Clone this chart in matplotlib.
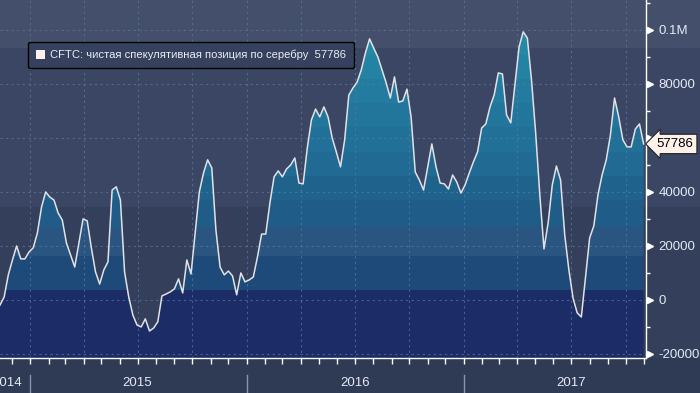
import numpy as np
import pandas as pd
import matplotlib
matplotlib.use('Agg')
import matplotlib.pyplot as plt
import matplotlib.dates as mdates
import matplotlib.transforms as mtransforms
from matplotlib.colors import ListedColormap, BoundaryNorm
from matplotlib.patches import Patch

plt.rcParams['font.family'] = ['Liberation Sans', 'DejaVu Sans']

# weekly CFTC net speculative position in silver (thousands of contracts)
start_date = '2014-11-11'
net_k = [
    -1.9, 1.1, 9.3, 14.8, 20.0, 15.2, 15.2, 17.8, 19.3, 24.8,
    34.4, 40.0, 38.1, 37.0, 32.2, 29.6, 21.1, 16.7, 12.2, 21.1,
    30.0, 29.3, 19.3, 10.4, 5.9, 11.1, 14.1, 40.7, 41.9, 37.0,
    10.4, 1.1, -5.6, -9.3, -10.0, -7.0, -11.5, -10.4, -8.1, 1.5,
    2.2, 3.0, 4.1, 7.8, 2.6, 14.8, 9.6, 24.8, 40.0, 47.0,
    51.9, 48.9, 25.9, 12.2, 9.3, 10.7, 8.9, 1.9, 10.0, 6.7,
    7.4, 8.5, 15.9, 24.4, 24.4, 35.9, 45.6, 47.8, 45.6, 48.5,
    50.0, 52.6, 43.3, 43.0, 56.3, 66.7, 70.7, 67.8, 71.5, 67.8,
    60.0, 54.8, 49.3, 59.3, 75.9, 78.5, 80.7, 85.2, 91.5, 96.7,
    93.3, 90.0, 85.2, 80.4, 74.8, 82.6, 73.3, 73.7, 78.1, 67.8,
    47.4, 44.4, 40.7, 49.3, 57.8, 49.3, 43.3, 43.0, 41.1, 46.3,
    43.7, 39.6, 42.6, 47.0, 51.1, 54.8, 63.7, 65.2, 71.5, 75.9,
    84.1, 83.7, 68.5, 65.6, 79.6, 93.7, 99.3, 97.0, 81.5, 61.9,
    38.9, 18.9, 28.5, 42.6, 49.6, 44.4, 24.1, 11.1, 0.7, -4.8,
    -6.3, 8.5, 23.0, 27.4, 38.9, 46.3, 51.9, 61.1, 74.8, 67.8,
    59.3, 56.7, 56.7, 63.3, 65.2, 57.786,
]
last_value = 57786
legend_label = 'CFTC: чистая спекулятивная позиция по серебру  57786'

y_ticks = [-20000, 0, 20000, 40000, 60000, 80000, 100000]
y_tick_labels = ['-20000', '0', '20000', '40000', '', '80000', '0.1M']
y_minor = [-10000, 10000, 30000, 50000, 70000, 90000, 110000]
years = [2014, 2015, 2016, 2017]

# stepped colours of the area fill and of the background
fill_edges = [-30000, 3700, 16300, 27000, 37000, 46000, 55000, 64000, 73000, 82000, 91000, 130000]
fill_colors = ['#1b2c66', '#1e4a7a', '#2a5581', '#1f5d88', '#1f638d', '#206a93',
               '#217097', '#22769b', '#237c9f', '#2482a3', '#2588a6']
bg_edges = [-30000, 34400, 93300, 130000]
bg_colors = ['#333f5b', '#3a4664', '#434f6b']

dates = pd.date_range(start_date, periods=len(net_k), freq='7D')
net = np.array(net_k) * 1000
y_lo, y_hi = -21500, 111100
x0 = mdates.date2num(dates[0])
x1 = mdates.date2num(dates[-1]) + 4

W, H = 700, 393
fig = plt.figure(figsize=(7, 3.93), dpi=100, facecolor='#2f3a55')
rect = [0, 35 / H, 646 / W, 358 / H]

# background bands across the full width
ax_bg = fig.add_axes([0, 35 / H, 1, 358 / H], zorder=0)
ax_bg.set_ylim(y_lo, y_hi)
for lo, hi, c in zip(bg_edges[:-1], bg_edges[1:], bg_colors):
    ax_bg.axhspan(lo, hi, color=c, lw=0)
ax_bg.axis('off')

ax = fig.add_axes(rect, zorder=1)
ax.set_facecolor('none')
ax.set_xlim(x0, x1)
ax.set_ylim(y_lo, y_hi)

# gradient area under the line
fill = ax.fill_between(dates, net, y_lo, facecolor='none', edgecolor='none')
cmap = ListedColormap(fill_colors)
norm = BoundaryNorm(fill_edges, cmap.N)
grad = np.linspace(y_lo, y_hi, 800).reshape(-1, 1)
img = ax.imshow(grad, cmap=cmap, norm=norm, origin='lower', aspect='auto',
                extent=[x0, x1, y_lo, y_hi], zorder=1, interpolation='nearest')
img.set_clip_path(fill.get_paths()[0], transform=ax.transData)

ax.plot(dates, net, color='#e2e2e6', lw=1.1, zorder=3)

# grid
ax.xaxis.set_major_locator(mdates.MonthLocator(bymonth=[1, 4, 7, 10]))
ax.xaxis.set_minor_locator(mdates.MonthLocator())
ax.xaxis.set_major_formatter(plt.NullFormatter())
ax.set_yticks(y_ticks)
ax.set_yticklabels(y_tick_labels)
ax.set_yticks(y_minor, minor=True)
ax.grid(True, which='major', color='#5b7aa0', ls=(0, (2, 3)), lw=0.8, alpha=0.7, zorder=2)
ax.set_axisbelow(False)

ax.yaxis.tick_right()
ax.tick_params(axis='y', which='major', length=0, pad=9, labelsize=9.5, labelcolor='#e4eaf4')
ax.tick_params(axis='y', which='minor', length=3, color='white', width=1)
ax.tick_params(axis='x', which='both', length=4, color='white', width=1, direction='out')

for s in ['top', 'left']:
    ax.spines[s].set_visible(False)
for s in ['right', 'bottom']:
    ax.spines[s].set_color('white')
    ax.spines[s].set_linewidth(1)

# triangle flags on major y ticks
ytrans = mtransforms.blended_transform_factory(ax.transAxes, ax.transData)
ax.plot([1.006] * len(y_ticks), y_ticks, ls='none', marker='>', ms=5, color='white',
        transform=ytrans, clip_on=False, zorder=4)

# last value tag
ax.text(1.016, last_value, str(last_value), transform=ytrans, ha='left', va='center',
        fontsize=9.5, color='black', zorder=6,
        bbox=dict(boxstyle='larrow,pad=0.28', facecolor='#fdf1ea', edgecolor='#222222', lw=0.8))

# year labels and separators below the axis
xtrans = mtransforms.blended_transform_factory(ax.transData, ax.transAxes)
for yr in years:
    mid = mdates.date2num(pd.Timestamp(f'{yr}-07-01'))
    if mid < x0:
        mid = x0 + 12
    ax.text(mid, -0.07, str(yr), transform=xtrans, ha='center', va='center',
            fontsize=9.5, color='#e4eaf4', clip_on=False)
    sep = mdates.date2num(pd.Timestamp(f'{yr}-01-01'))
    if x0 < sep < x1:
        ax.plot([sep, sep], [-0.047, -0.1], transform=xtrans, color='#8a93a8',
                lw=1, clip_on=False)

# legend
leg = ax.legend(handles=[Patch(facecolor='#fdf0ec', edgecolor='none')], labels=[legend_label],
                loc='upper left', bbox_to_anchor=(28 / 646, 1 - 42 / 358), borderaxespad=0,
                frameon=True, facecolor='#35415d', edgecolor='black', fancybox=True,
                handlelength=0.8, handleheight=0.8, handletextpad=0.5, borderpad=0.7,
                fontsize=8.1, labelcolor='#e8ecf4')
leg.get_frame().set_alpha(1)
leg.set_zorder(7)

fig.savefig('out.png', dpi=100, facecolor=fig.get_facecolor())
